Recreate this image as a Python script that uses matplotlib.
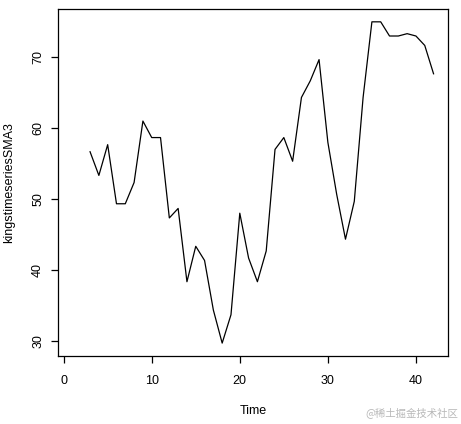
import matplotlib
matplotlib.use("Agg")
import matplotlib.pyplot as plt

time = list(range(3, 43))
sma3 = [56.67, 53.33, 57.67, 49.33, 49.33, 52.33, 61.00, 58.67, 58.67, 47.33,
        48.67, 38.33, 43.33, 41.33, 34.33, 29.67, 33.67, 48.00, 41.67, 38.33,
        42.67, 57.00, 58.67, 55.33, 64.33, 66.67, 69.67, 58.00, 50.67, 44.33,
        49.67, 64.33, 75.00, 75.00, 73.00, 73.00, 73.33, 73.00, 71.67, 67.67]
xticks = [0, 10, 20, 30, 40]
yticks = [30, 40, 50, 60, 70]

plt.rcParams['font.family'] = ['Liberation Sans', 'DejaVu Sans']
fig = plt.figure(figsize=(4.61, 4.24), dpi=100)
ax = fig.add_axes([58/461, 1-356/424, 390/461, 347/424])
ax.plot(time, sma3, color='black', linewidth=0.9)
ax.set_xlim(-0.64, 43.64)
ax.set_ylim(27.85, 76.81)
ax.set_xticks(xticks)
ax.set_yticks(yticks)
ax.tick_params(direction='out', length=5, width=0.9, labelsize=9, colors='black')
ax.tick_params(axis='x', pad=9)
ax.tick_params(axis='y', pad=5)
for lab in ax.get_yticklabels():
    lab.set_rotation(90)
    lab.set_va('center')
for s in ax.spines.values():
    s.set_linewidth(0.9)
ax.set_xlabel('Time', fontsize=9, labelpad=13)
ax.set_ylabel('kingstimeseriesSMA3', fontsize=9, labelpad=12)
fig.text(0.995, 0.015, '@稀土掘金技术社区', ha='right', va='bottom', fontsize=7.5,
         color='#b8b8b8', family=['Noto Sans CJK SC', 'DejaVu Sans'])
fig.savefig('out.png', dpi=100)
